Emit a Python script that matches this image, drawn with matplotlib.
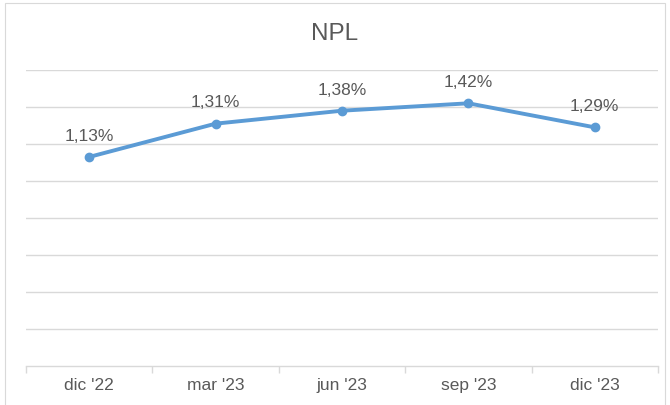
import matplotlib
matplotlib.use("Agg")
import matplotlib.pyplot as plt
from matplotlib.patches import Rectangle
import numpy as np

# data
periods = ["dic '22", "mar '23", "jun '23", "sep '23", "dic '23"]
npl = [1.13, 1.31, 1.38, 1.42, 1.29]
labels = ["1,13%", "1,31%", "1,38%", "1,42%", "1,29%"]

plt.rcParams['font.family'] = ['Liberation Sans', 'DejaVu Sans']
gray_txt = '#595959'
grid_col = '#D9D9D9'
line_col = '#5B9BD5'

fig = plt.figure(figsize=(6.7, 4.05), dpi=100)
# outer chart frame
fig.patches.append(Rectangle((5/670, -0.05), 660/670, 1.05 - 3/405,
                             transform=fig.transFigure, fill=False,
                             edgecolor='#D9D9D9', linewidth=0.8))

ax = fig.add_axes([26/670, 39/405, 632/670, 296/405])
x = np.arange(len(periods))
ax.plot(x, npl, color=line_col, linewidth=2.8, marker='o', markersize=6,
        solid_capstyle='round', zorder=3)
for xi, yi, lab in zip(x, npl, labels):
    ax.annotate(lab, (xi, yi), xytext=(0, 9.5), textcoords='offset points',
                ha='center', va='bottom', fontsize=12.5, color=gray_txt)

ax.set_xlim(-0.5, len(periods) - 0.5)
ax.set_ylim(0, 1.6)
ax.set_yticks(np.arange(0.2, 1.61, 0.2))
ax.yaxis.grid(True, color=grid_col, linewidth=1)
ax.set_axisbelow(True)
ax.tick_params(axis='y', length=0, labelleft=False)

ax.set_xticks(x)
ax.set_xticklabels(periods, fontsize=12.5, color=gray_txt)
ax.set_xticks(np.arange(-0.5, len(periods), 1.0), minor=True)
ax.tick_params(axis='x', which='major', length=0, pad=8.5)
ax.tick_params(axis='x', which='minor', length=5, color=grid_col, width=1)

for s in ['top', 'right', 'left']:
    ax.spines[s].set_visible(False)
ax.spines['bottom'].set_color(grid_col)
ax.spines['bottom'].set_linewidth(1)

fig.text(0.5, 1 - 33.5/405, "NPL", ha='center', va='center', fontsize=17.5,
         color=gray_txt)

fig.savefig("out.png", dpi=100)
